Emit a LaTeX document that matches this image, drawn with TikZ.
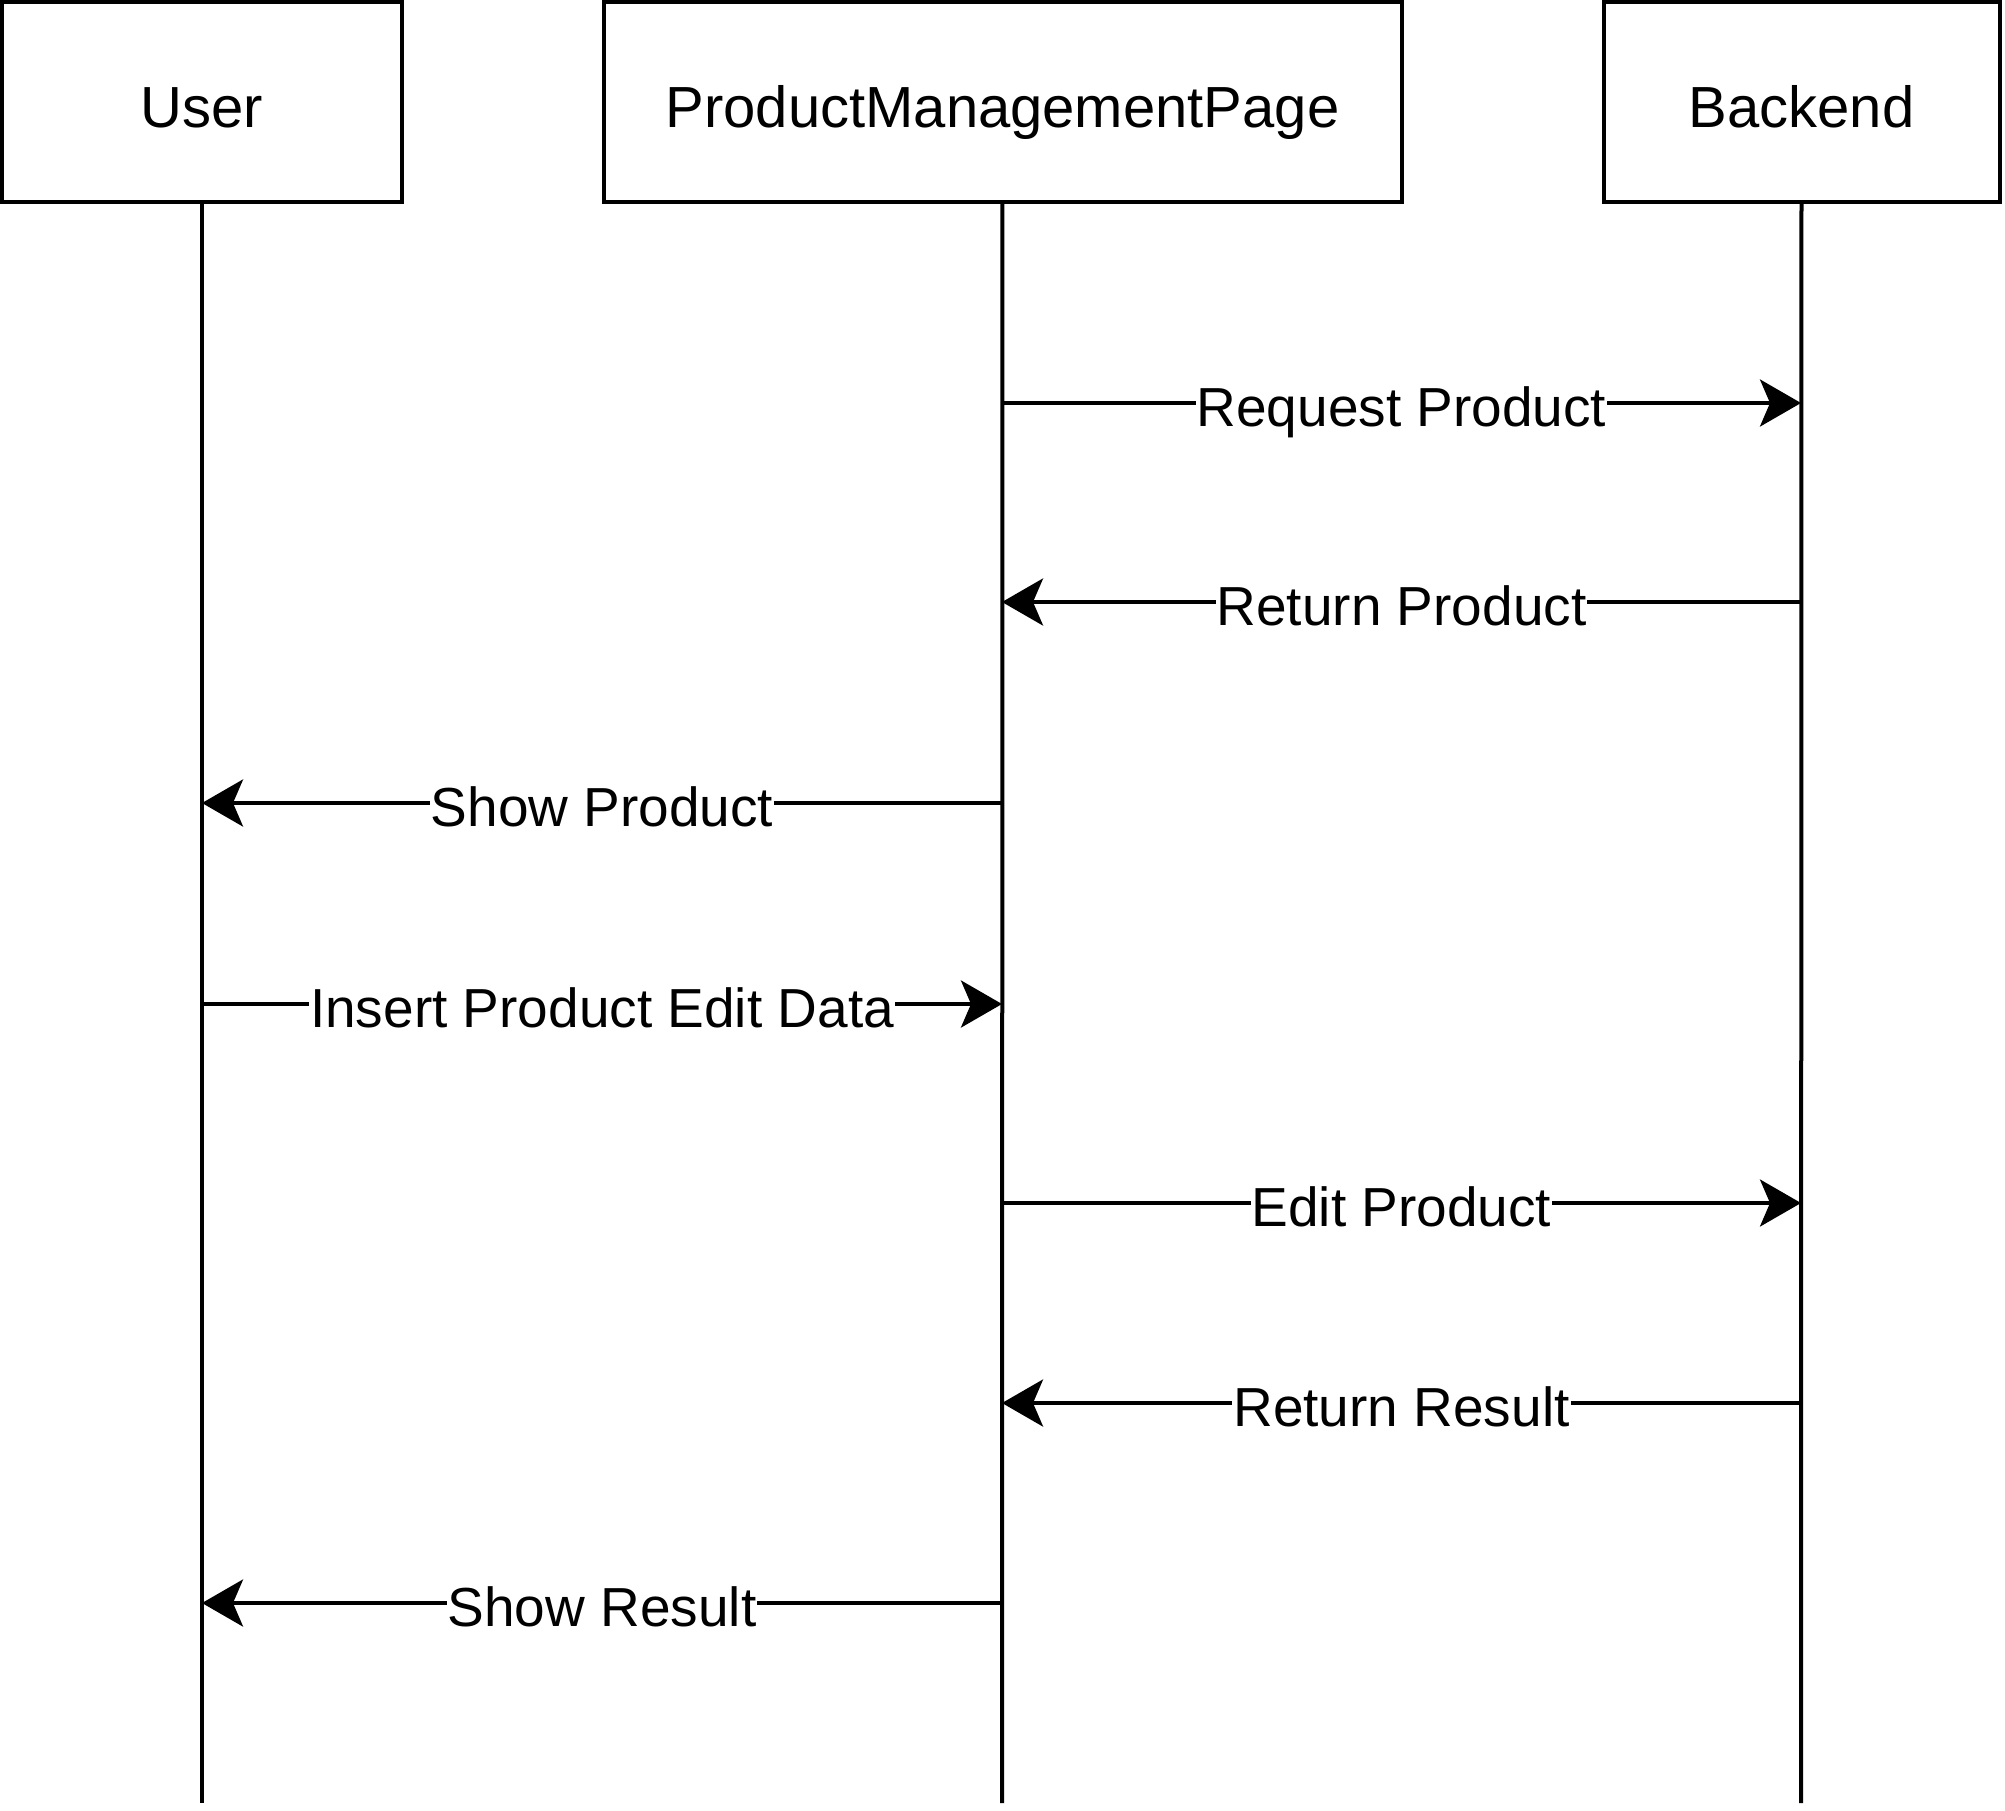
\documentclass[tikz,border=0pt]{standalone}
\usepackage{fontspec}
\setmainfont{Liberation Sans}
\usetikzlibrary{arrows.meta}

\begin{document}
\begin{tikzpicture}[x=0.5pt,y=-0.5pt]
		\tikzset{actor/.style = {draw, line width=2pt, minimum height=100pt, text height=25.5pt, text depth=0pt, font=\fontsize{29}{34}\selectfont}}
		\tikzset{life/.style = {line width=2pt}}
		\tikzset{msg/.style = {line width=2pt, -{Stealth[length=20.5pt, width=23.5pt, inset=5pt]}}}
		\tikzset{lbl/.style = {midway, fill=white, inner sep=0.5pt, text height=23.4pt, text depth=0pt, font=\fontsize{27.5}{32}\selectfont}}
		\useasboundingbox (0,0) rectangle (2005,1810);
		% Draw participants
		\node[actor, minimum width=200pt] (user) at (202,102) {User};
		\node[actor, minimum width=399pt] (page) at (1002.5,102) {ProductManagementPage};
		\node[actor, minimum width=198pt] (back) at (1801.5,102) {Backend};
		% Draw lifelines
		\coordinate (userend) at (202,1803);
		\coordinate (pageend) at (1002,1803);
		\coordinate (backend) at (1801,1803);
		\draw[life] (user) -- (userend);
		\draw[life] (page) -- (pageend);
		\draw[life] (back) -- (backend);
		\foreach \i/\y in {1/403, 2/602, 3/803, 4/1004, 5/1203, 6/1403, 7/1603} {
			\coordinate (u\i) at (202,\y);
			\coordinate (p\i) at (1002,\y);
			\coordinate (b\i) at (1801,\y);
		}
		% Draw messages
		\draw[msg] (p1) -- node[lbl] {Request Product} (b1);
		\draw[msg] (b2) -- node[lbl] {Return Product} (p2);
		\draw[msg] (p3) -- node[lbl] {Show Product} (u3);
		\draw[msg] (u4) -- node[lbl] {Insert Product Edit Data} (p4);
		\draw[msg] (p5) -- node[lbl] {Edit Product} (b5);
		\draw[msg] (b6) -- node[lbl] {Return Result} (p6);
		\draw[msg] (p7) -- node[lbl] {Show Result} (u7);
	\end{tikzpicture}
\end{document}
